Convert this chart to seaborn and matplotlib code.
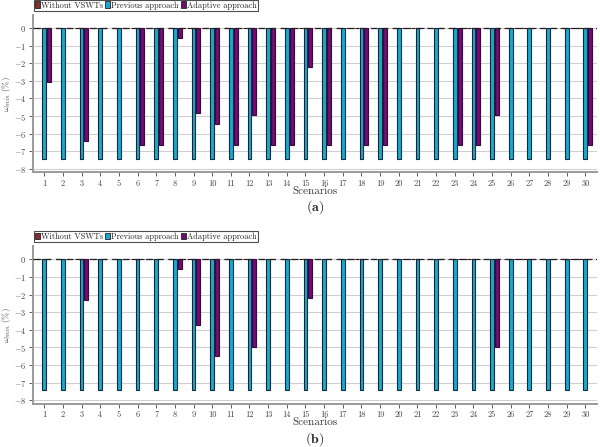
import matplotlib
matplotlib.use("Agg")
import matplotlib.pyplot as plt
import matplotlib.colors as mcolors
import seaborn as sns
import pandas as pd
import numpy as np
from matplotlib.patches import Patch

sns.set_style("white")
plt.rcParams['font.family'] = 'serif'
plt.rcParams['font.serif'] = ['cmr10', 'DejaVu Serif']
plt.rcParams['mathtext.fontset'] = 'cm'
plt.rcParams['axes.formatter.use_mathtext'] = True
plt.rcParams['axes.unicode_minus'] = True

scenarios = [str(i) for i in range(1, 31)]
series_names = ["Without VSWTs", "Previous approach", "Adaptive approach"]

without_a = [0.0] * 30
previous_a = [-7.42] * 30
adaptive_a = [-3.05, 0, -6.42, 0, 0, -6.62, -6.62, -0.57, -4.81, -5.45,
              -6.62, -4.92, -6.62, -6.62, -2.21, -6.62, 0, -6.62, -6.62, 0,
              0, 0, -6.62, -6.62, -4.92, 0, 0, 0, 0, -6.62]

without_b = [0.0] * 30
previous_b = [-7.43] * 30
adaptive_b = [0, 0, -2.33, 0, 0, 0, 0, -0.57, -3.74, -5.48,
              0, -4.95, 0, 0, -2.21, 0, 0, 0, 0, 0,
              0, 0, 0, 0, -4.95, 0, 0, 0, 0, 0]

colors = ["#8c2b2b", "#1ea7cc", "#6e0e6e"]
edge_colors = ["#3a0f0f", "#0a2c3c", "#3a0540"]
yticks = list(range(-8, 1))


def make_df(w, p, a):
    rows = []
    for name, vals in zip(series_names, [w, p, a]):
        for s, v in zip(scenarios, vals):
            rows.append({"Scenario": s, "Series": name, "Value": v})
    return pd.DataFrame(rows)


fig = plt.figure(figsize=(6.0, 4.47), dpi=100)
ax_a = fig.add_axes([0.055, 0.6145, 0.94, 0.352])
ax_b = fig.add_axes([0.055, 0.0964, 0.94, 0.353])

panels = [(ax_a, make_df(without_a, previous_a, adaptive_a), r"$\mathbf{(a)}$"),
          (ax_b, make_df(without_b, previous_b, adaptive_b), r"$\mathbf{(b)}$")]

for ax, df, lab in panels:
    ax.set_axisbelow(True)
    sns.barplot(data=df, x="Scenario", y="Value", hue="Series",
                hue_order=series_names, order=scenarios, palette=colors,
                saturation=1, width=0.78, gap=0.2, errorbar=None,
                edgecolor="#0c2a38", linewidth=0.8, legend=False, ax=ax)
    face_to_edge = {mcolors.to_hex(c): e for c, e in zip(colors, edge_colors)}
    for p in ax.patches:
        fc = mcolors.to_hex(p.get_facecolor())
        if fc in face_to_edge:
            p.set_edgecolor(face_to_edge[fc])
    ax.axhline(0, color="#222222", lw=0.9, ls=(0, (5, 4)), zorder=3)
    ax.set_ylim(-8.2, 0.75)
    ax.set_xlim(-0.6, 29.62)
    ax.set_yticks(yticks)
    ax.yaxis.grid(True, color="#cfcfcf", lw=0.8)
    ax.xaxis.grid(False)
    for sp in ["top", "right"]:
        ax.spines[sp].set_visible(False)
    for sp in ["left", "bottom"]:
        ax.spines[sp].set_color("#9a9a9a")
        ax.spines[sp].set_linewidth(1.4)
    ax.tick_params(axis="both", labelsize=6, colors="#444444", length=3,
                   width=0.6, pad=2, direction="out", bottom=True, left=True)
    ax.set_xlabel("Scenarios", fontsize=8, labelpad=-1, color="#333333")
    ax.set_ylabel(r"$\omega_{min}\ (\%)$", fontsize=6.5, color="#444444")
    ax.yaxis.set_label_coords(-0.036, 0.5)
    handles = [Patch(facecolor=c, edgecolor="#222222", lw=0.6) for c in colors]
    leg = ax.legend(handles, series_names, loc="lower left",
                    bbox_to_anchor=(0.0, 1.02), ncol=3, fontsize=6,
                    handlelength=0.6, handleheight=0.9, handletextpad=0.15,
                    columnspacing=0.2, borderpad=0.15, borderaxespad=0.1,
                    frameon=True, fancybox=False, edgecolor="#222222")
    leg.get_frame().set_linewidth(0.8)
    ax.text(0.5, -0.165, lab, transform=ax.transAxes, ha="center", va="top",
            fontsize=10)

fig.savefig("out.png", dpi=100)
